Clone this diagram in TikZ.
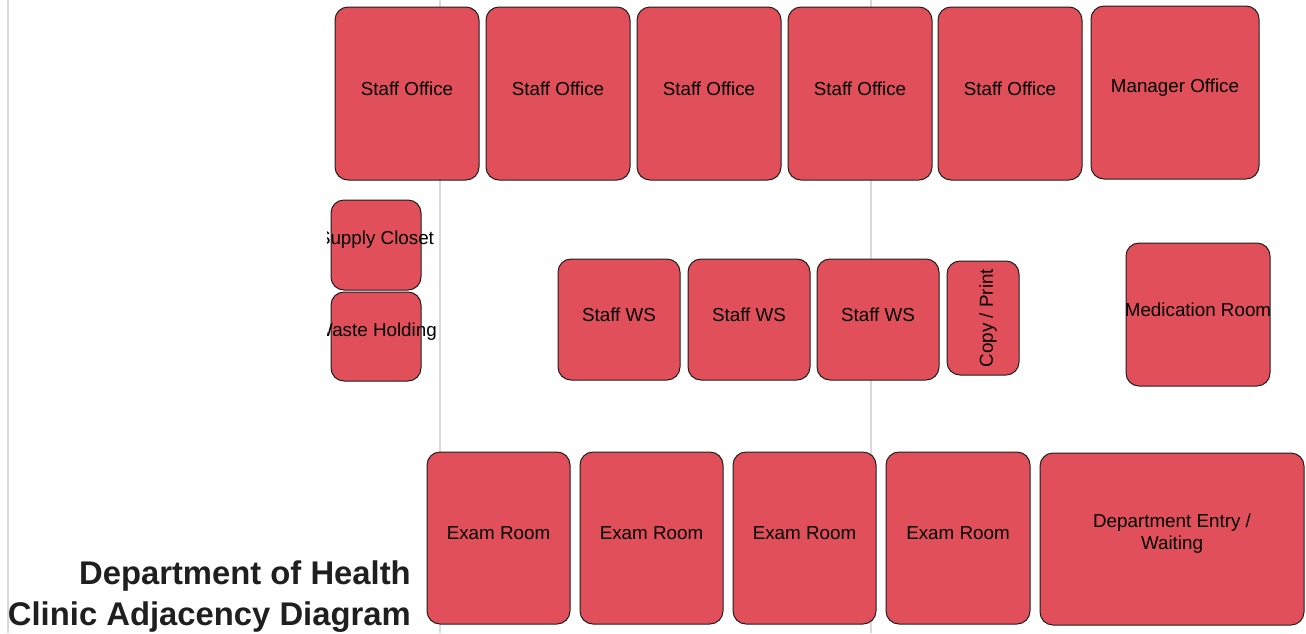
\documentclass[tikz,border=0pt]{standalone}
\usepackage{fontspec}
\setmainfont{Liberation Sans}
\newfontfamily\titlefamily{Liberation Sans}
\definecolor{roomred}{RGB}{224,79,90}
\definecolor{gridgray}{RGB}{217,217,217}
\definecolor{edgeblack}{RGB}{30,30,30}
\newcommand\roomnode[6]{%
  \node[room, minimum width={(#4-#2)*1pt}, minimum height={(#5-#3)*1pt}] (#1) at ({(#2+#4)/2},{(#3+#5)/2}) {};
  \node[lbl] (#1-t) at ([yshift=5pt]#1.center) {#6};}
\tikzset{
  room/.style={draw=edgeblack, line width=1pt, fill=roomred, rounded corners=13pt, inner sep=0pt},
  lbl/.style={font=\fontsize{18.8}{22}\selectfont, text=black, align=center, inner sep=0pt},
  guide/.style={draw=gridgray, line width=1.6pt},
  ttl/.style={font=\titlefamily\bfseries\fontsize{32.8}{41}\selectfont, text=black!88, inner sep=0pt, anchor=base east}
}
\begin{document}
\begin{tikzpicture}[x=1pt,y=-1pt]
\useasboundingbox (0,0) rectangle (1306,633);
% guide lines
\coordinate (g1t) at (8,0); \coordinate (g1b) at (8,633);
\coordinate (g2t) at (440,0); \coordinate (g2b) at (440,633);
\coordinate (g3t) at (871,0); \coordinate (g3b) at (871,633);
\draw[guide] (g1t) -- (g1b);
\draw[guide] (g2t) -- (g2b);
\draw[guide] (g3t) -- (g3b);
% top row
\roomnode{so1}{335}{7}{479}{180}{Staff Office}
\roomnode{so2}{486}{7}{630}{180}{Staff Office}
\roomnode{so3}{637}{7}{781}{180}{Staff Office}
\roomnode{so4}{788}{7}{932}{180}{Staff Office}
\roomnode{so5}{938}{7}{1082}{180}{Staff Office}
\roomnode{mo}{1091}{6}{1259}{179}{Manager Office}
% supply / waste (labels clipped at left)
\begin{scope}
\clip (327,190) rectangle (460,395);
\roomnode{sc}{331}{200}{421}{290}{Supply Closet}
\roomnode{wh}{331}{292}{421}{381}{Waste Holding}
\end{scope}
% middle row
\roomnode{ws1}{558}{259}{680}{380}{Staff WS}
\roomnode{ws2}{688}{259}{810}{380}{Staff WS}
\roomnode{ws3}{817}{259}{939}{380}{Staff WS}
\node[room, minimum width=72pt, minimum height=114pt] (cp) at (983,318) {};
\node[lbl, rotate=90] (cp-t) at ([xshift=5pt]cp.center) {Copy / Print};
\roomnode{med}{1126}{243}{1270}{386}{Medication Room}
% bottom row
\roomnode{ex1}{427}{452}{570}{624}{Exam Room}
\roomnode{ex2}{580}{452}{723}{624}{Exam Room}
\roomnode{ex3}{733}{452}{876}{624}{Exam Room}
\roomnode{ex4}{886}{452}{1030}{624}{Exam Room}
\roomnode{entry}{1040}{453}{1304}{625}{Department Entry /\\Waiting}
% title
\node[ttl] (title1) at (411,584.5) {Department of Health};
\node[ttl] (title2) at (411,625.5) {Clinic Adjacency Diagram};
\end{tikzpicture}
\end{document}
